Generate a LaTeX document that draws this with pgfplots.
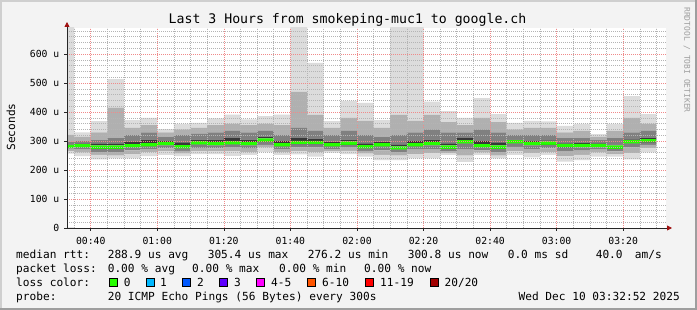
\documentclass[border=0pt]{standalone}
\usepackage{fontspec}
\setmainfont{DejaVu Sans Mono}
\usepackage{pgfplots}
\usepackage{pgfplotstable}
\pgfplotsset{compat=1.18}
\usetikzlibrary{arrows.meta}
\definecolor{bgc}{HTML}{F3F3F3}
\definecolor{shadeA}{HTML}{CFCFCF}
\definecolor{shadeB}{HTML}{9E9E9E}
\definecolor{gridc}{HTML}{B4B4B4}
\definecolor{mgridc}{HTML}{F08A8A}
\definecolor{arrowc}{HTML}{A01010}
\definecolor{cA}{HTML}{DCDCDC}
\definecolor{cB}{HTML}{B0B0B0}
\definecolor{cC}{HTML}{808080}
\definecolor{cD}{HTML}{383838}
\definecolor{lc0}{HTML}{26FF00}
\definecolor{lc1}{HTML}{00B8FF}
\definecolor{lc2}{HTML}{0059FF}
\definecolor{lc3}{HTML}{5E00FF}
\definecolor{lc4}{HTML}{FF00FF}
\definecolor{lc6}{HTML}{FF5500}
\definecolor{lc11}{HTML}{FF0000}
\definecolor{lc20}{HTML}{A10000}

\pgfplotstableread{
t mn l2 l3 l4 med u4 u3 u2 mx
32.5 257 265 270 275 280 287 295 320 700
37.5 248 260 270 276 283 290 300 315 330
42.5 237 252 262 270 279 290 305 330 369
47.5 240 250 262 270 279 290 310 415 514
52.5 240 255 268 276 283 297 320 345 372
57.5 248 262 272 280 287 305 330 355 380
62.5 252 265 275 284 291 300 315 330 341
67.5 248 257 266 273 280 295 320 340 359
72.5 255 265 276 286 294 305 325 345 363
77.5 255 265 275 284 291 305 330 355 378
82.5 249 265 277 287 294 310 335 360 391
87.5 252 262 274 284 291 305 330 355 375
92.5 262 277 287 296 303 315 335 360 386
97.5 252 262 272 280 287 300 320 355 391
102.5 254 265 278 288 295 310 345 470 700
107.5 246 262 278 288 295 307 335 390 570
112.5 260 265 272 280 287 298 320 345 369
117.5 255 266 277 286 293 305 335 380 439
122.5 246 257 266 273 280 292 320 370 432
127.5 234 252 268 279 287 298 315 345 372
132.5 234 250 262 269 276 287 320 390 700
137.5 240 255 270 280 287 300 330 370 700
142.5 240 258 272 284 291 305 340 390 436
147.5 252 258 265 272 279 292 330 365 403
152.5 228 250 270 288 297 310 330 355 380
157.5 252 260 268 276 283 300 340 380 448
162.5 240 250 262 272 279 295 330 365 393
167.5 252 265 280 290 297 305 320 340 363
172.5 244 258 272 284 291 300 320 345 370
177.5 252 262 275 286 293 302 320 345 368
182.5 229 248 265 276 284 292 310 330 352
187.5 234 252 267 277 284 293 310 335 359
192.5 246 260 270 277 284 292 305 315 324
197.5 246 255 264 272 279 288 310 335 359
202.5 237 258 278 290 297 306 330 380 455
207.5 261 275 287 294 301 312 335 360 393
}\smoke

\begin{document}
\begin{tikzpicture}
\fill[bgc] (0bp,0bp) rectangle (697bp,310bp);
\fill[shadeA] (0bp,308bp) rectangle (697bp,310bp);
\fill[shadeA] (0bp,0bp) rectangle (2bp,310bp);
\fill[shadeB] (0bp,0bp) rectangle (697bp,2bp);
\fill[shadeB] (695bp,0bp) rectangle (697bp,310bp);
\begin{axis}[
  at={(67bp,82bp)}, anchor=south west, scale only axis,
  width=599bp, height=200bp,
  xmin=32.867, xmax=212.867, ymin=0, ymax=690,
  axis lines=left,
  axis line style={draw=black!85, line width=0.8bp, shorten >=-6bp,
     -{Triangle[length=5bp,width=5bp,color=arrowc]}},
  axis background/.style={fill=white},
  axis on top,
  ybar stacked, bar width=5,
  xtick={40,60,...,200},
  xticklabels={00:40,01:00,01:20,01:40,02:00,02:20,02:40,03:00,03:20},
  minor xtick={35,45,50,55,65,70,75,85,90,95,105,110,115,125,130,135,145,150,155,165,170,175,185,190,195,205,210},
  ytick={0,100,...,600},
  yticklabels={0,100 u,200 u,300 u,400 u,500 u,600 u},
  minor ytick={20,40,60,80,120,140,160,180,220,240,260,280,320,340,360,380,420,440,460,480,520,540,560,580,620,640,660,680},
  grid=both,
  major grid style={draw=mgridc, dash pattern=on 1bp off 1bp, line width=0.6bp},
  minor grid style={draw=gridc, dash pattern=on 1bp off 1bp, line width=0.6bp},
  tick align=outside,
  major tick length=3bp, minor tick length=0bp,
  tick style={draw=black!85, line width=0.6bp},
  tick label style={font=\fontsize{9.8}{11}\selectfont},
  xticklabel style={anchor=center, yshift=-10bp},
  yticklabel style={anchor=east, inner sep=0pt, xshift=-4.5bp},
]
\addplot[fill=none, draw=none] table[x=t, y=mn] {\smoke};
\addplot[fill=cA, draw=none] table[x=t, y expr=\thisrow{l2}-\thisrow{mn}] {\smoke};
\addplot[fill=cB, draw=none] table[x=t, y expr=\thisrow{l3}-\thisrow{l2}] {\smoke};
\addplot[fill=cC, draw=none] table[x=t, y expr=\thisrow{l4}-\thisrow{l3}] {\smoke};
\addplot[fill=cD, draw=none] table[x=t, y expr=\thisrow{med}-6-\thisrow{l4}] {\smoke};
\addplot[fill=lc0, draw=none] table[x=t, y expr=12] {\smoke};
\addplot[fill=cD, draw=none] table[x=t, y expr=\thisrow{u4}-\thisrow{med}-6] {\smoke};
\addplot[fill=cC, draw=none] table[x=t, y expr=\thisrow{u3}-\thisrow{u4}] {\smoke};
\addplot[fill=cB, draw=none] table[x=t, y expr=\thisrow{u2}-\thisrow{u3}] {\smoke};
\addplot[fill=cA, draw=none] table[x=t, y expr=\thisrow{mx}-\thisrow{u2}] {\smoke};
\end{axis}
% title and labels
\node[anchor=base, font=\fontsize{13.25}{15}\selectfont] at (347.5bp,286.5bp) {Last 3 Hours from smokeping-muc1 to google.ch};
\node[rotate=90, font=\fontsize{11.2}{13}\selectfont] at (11bp,183bp) {Seconds};
\node[rotate=-90, font=\fontsize{8}{9}\selectfont, text=black!38] at (687bp,250bp) {RRDTOOL / TOBI OETIKER};
% legend lines
\begin{scope}[every node/.style={anchor=base west, inner sep=0pt, font=\fontsize{11.2}{13}\selectfont}]
\node at (16bp,51.3bp) {median rtt:};
\node at (107.6bp,51.3bp) {288.9 us avg};
\node at (207.6bp,51.3bp) {305.4 us max};
\node at (307.6bp,51.3bp) {276.2 us min};
\node at (407.6bp,51.3bp) {300.8 us now};
\node at (507.6bp,51.3bp) {0.0 ms sd};
\node at (595.6bp,51.3bp) {40.0};
\node[anchor=base east] at (662bp,51.3bp) {am/s};
\node at (16bp,37.7bp) {packet loss:};
\node at (107.6bp,37.7bp) {0.00 \% avg};
\node at (192bp,37.7bp) {0.00 \% max};
\node at (279bp,37.7bp) {0.00 \% min};
\node at (364bp,37.7bp) {0.00 \% now};
\node at (16bp,23.3bp) {loss color:};
\node at (123.6bp,23.3bp) {0};
\node at (160bp,23.3bp) {1};
\node at (197bp,23.3bp) {2};
\node at (234bp,23.3bp) {3};
\node at (271bp,23.3bp) {4-5};
\node at (322bp,23.3bp) {6-10};
\node at (380bp,23.3bp) {11-19};
\node at (444.4bp,23.3bp) {20/20};
\node at (16bp,9.3bp) {probe:};
\node at (107.6bp,9.3bp) {20 ICMP Echo Pings (56 Bytes) every 300s};
\node[anchor=base east] at (680bp,9.3bp) {Wed Dec 10 03:32:52 2025};
\end{scope}
\foreach \xx/\cc in {109/lc0,146/lc1,182/lc2,219.6/lc3,256.4/lc4,307.6/lc6,365/lc11,430/lc20}{
  \filldraw[fill=\cc, draw=black, line width=0.7bp] (\xx bp,23.5bp) rectangle ++(8bp,8.5bp);
}
\end{tikzpicture}
\end{document}
